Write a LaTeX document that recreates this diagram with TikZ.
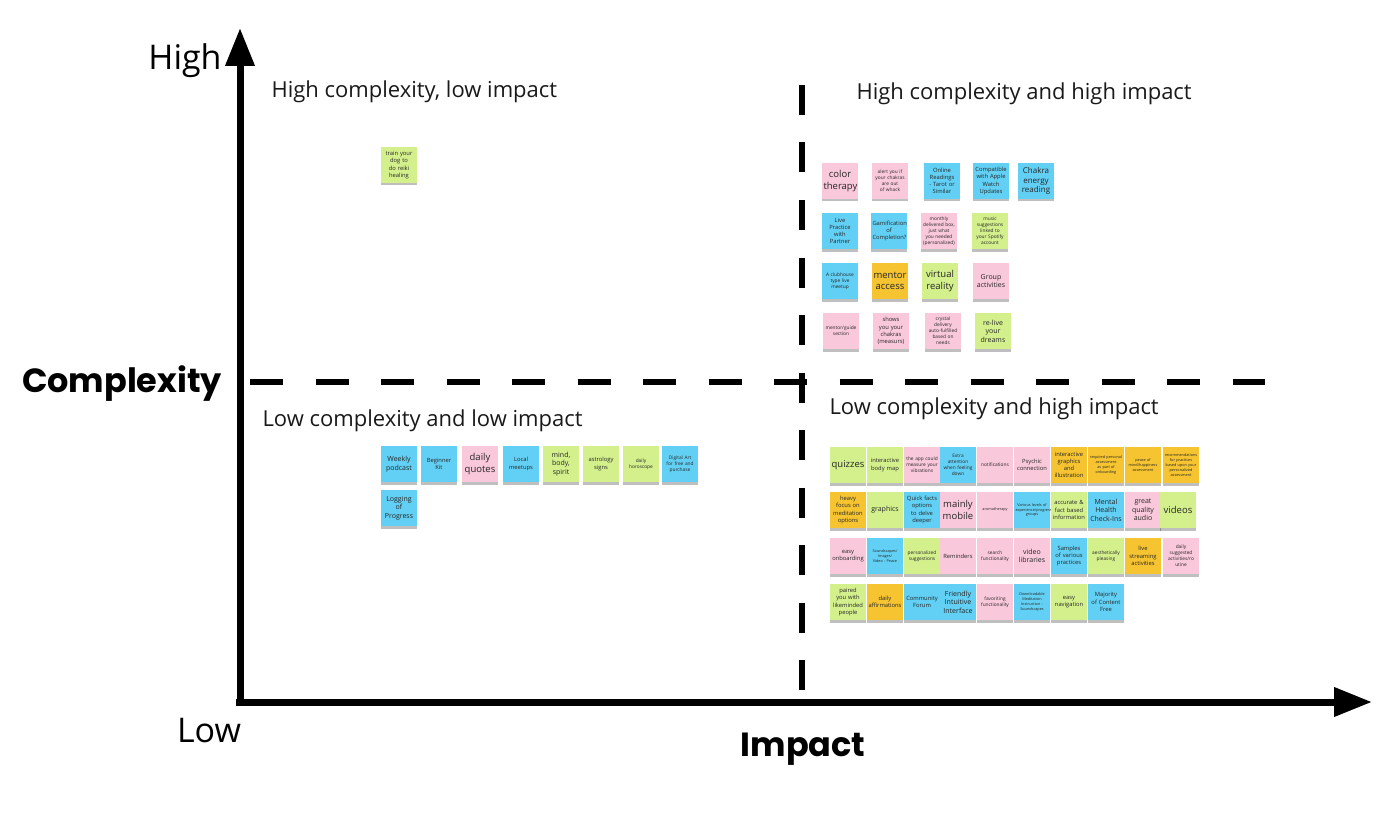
\documentclass[tikz,border=0pt]{standalone}
\usepackage{fontspec}
\setmainfont{Open Sans}
\newfontfamily\axisfont{Poppins}
\usetikzlibrary{arrows.meta,shadows}
\definecolor{npink}{HTML}{F9C8DA}
\definecolor{nblue}{HTML}{62D0F4}
\definecolor{ngreen}{HTML}{D3F08C}
\definecolor{nyellow}{HTML}{F6C430}
\newcommand\nohy{\hyphenpenalty=10000\exhyphenpenalty=10000\relax}
\tikzset{
  note/.style={rectangle, minimum width=36pt, minimum height=36pt, inner sep=0pt,
    text width=33pt, align=center, text=black!85,
    drop shadow={shadow xshift=0pt,shadow yshift=-2.5pt,opacity=0.25,fill=black}},
  fa/.style={font=\fontsize{9.5}{11.5}\selectfont\nohy},
  fb/.style={font=\fontsize{7}{8.6}\selectfont\nohy},
  fc/.style={font=\fontsize{5.8}{7.2}\selectfont\nohy},
  fd/.style={font=\fontsize{4.8}{6}\selectfont\nohy},
  fe/.style={font=\fontsize{3.8}{4.9}\selectfont\nohy},
  axisline/.style={line width=7pt, -{Triangle[length=38pt,width=28pt]}},
  quadline/.style={line width=5.5pt},
  qtitle/.style={anchor=west, font=\fontsize{22}{26}\selectfont, text=black!90},
  hilo/.style={font=\fontsize{34}{40}\selectfont},
  axtitle/.style={font=\axisfont\bfseries\fontsize{33.5}{40}\selectfont}
}
\newcommand\stick[5]{\node[note,fill=#1,#2] (#3) at (#4) {#5};}
\begin{document}
\begin{tikzpicture}[x=1pt,y=-1pt]
\useasboundingbox (0,0) rectangle (1400,829);
% axes
\coordinate (origV) at (240,706);
\coordinate (topV) at (240,28);
\coordinate (origH) at (236,702);
\coordinate (endH) at (1372,702);
\draw[axisline] (origV) -- (topV);
\draw[axisline] (origH) -- (endH);
% quadrant lines
\coordinate (vdTop) at (802,85);
\coordinate (vdBot) at (802,697);
\coordinate (hdL) at (250,382);
\coordinate (hdR) at (1265,382);
\draw[quadline, dash pattern=on 30pt off 27.5pt] (vdTop) -- (vdBot);
\draw[quadline, dash pattern=on 33pt off 32.5pt] (hdL) -- (hdR);
% axis labels
\node[hilo] (high) at (185,61) {High};
\node[hilo] (low) at (209,731) {Low};
\node[axtitle] (cx) at (122,384) {Complexity};
\node[axtitle] (im) at (803,749) {Impact};
% quadrant titles
\node[qtitle] (q1) at (268,92) {High complexity, low impact};
\node[qtitle] (q2) at (853,94) {High complexity and high impact};
\node[qtitle] (q3) at (259,421) {Low complexity and low impact};
\node[qtitle] (q4) at (826,409) {Low complexity and high impact};
% top-left
\stick{ngreen}{fc}{tl1}{399,165}{train your dog to do reiki healing}
% top-right
\stick{npink}{fa}{tr1}{840,181}{color therapy}
\stick{npink}{fd}{tr2}{890,181}{alert you if your chakras are out of whack}
\stick{nblue}{fc}{tr3}{942,181}{Online Readings - Tarot or Similar}
\stick{nblue}{fc}{tr4}{991,181}{Compatible with Apple Watch Updates}
\stick{nblue}{font=\fontsize{8}{9.6}\selectfont\nohy}{tr5}{1036,181}{Chakra energy reading}
\stick{nblue}{fc}{tr6}{840,231}{Live Practice with Partner}
\stick{nblue}{fc}{tr7}{889,231}{Gamification of Completion?}
\stick{npink}{fd}{tr8}{939,231}{monthly delivered box, just what you needed (personalized)}
\stick{ngreen}{fd}{tr9}{990,231}{music suggestions linked to your Spotify account}
\stick{nblue}{fd}{tr10}{840,281}{A clubhouse type live meetup}
\stick{nyellow}{fa}{tr11}{890,281}{mentor access}
\stick{ngreen}{fa}{tr12}{940,281}{virtual reality}
\stick{npink}{fb}{tr13}{991,281}{Group activities}
\stick{npink}{fd}{tr14}{841,331}{mentor/guide section}
\stick{npink}{fc}{tr15}{891,331}{shows you your chakras (measurs)}
\stick{npink}{fd}{tr16}{943,331}{crystal delivery auto-fulfilled based on needs}
\stick{ngreen}{fb}{tr17}{993,331}{re-live your dreams}
% bottom-left
\stick{nblue}{fb}{bl1}{399,464}{Weekly podcast}
\stick{nblue}{fc}{bl2}{439,464}{Beginner Kit}
\stick{npink}{fa}{bl3}{480,464}{daily quotes}
\stick{nblue}{fc}{bl4}{521,464}{Local meetups}
\stick{ngreen}{fb}{bl5}{561,464}{mind, body, spirit}
\stick{ngreen}{fc}{bl6}{601,464}{astrology signs}
\stick{ngreen}{fd}{bl7}{641,464}{daily horoscope}
\stick{nblue}{fd}{bl8}{680,464}{Digital Art for free and purchase}
\stick{nblue}{fb}{bl9}{399,508}{Logging of Progress}
% bottom-right row 1
\stick{ngreen}{fa}{br1}{848,465}{quizzes}
\stick{ngreen}{fc}{br2}{885,465}{interactive body map}
\stick{npink}{fd}{br3}{922,465}{the app could measure your vibrations}
\stick{nblue}{fd}{br4}{958,465}{Extra attention when feeling down}
\stick{npink}{fd}{br5}{995,465}{notifications}
\stick{npink}{fc}{br6}{1032,465}{Psychic connection}
\stick{nyellow}{fc}{br7}{1069,465}{interactive graphics and illustration}
\stick{nyellow}{fe}{br8}{1106,465}{required personal assessment as part of onboarding}
\stick{nyellow}{fe}{br9}{1143,465}{peace of mind/happiness assessment}
\stick{nyellow}{fe}{br10}{1181,465}{recommendations for practices based upon your personalized assessment}
% row 2
\stick{nyellow}{fc}{br11}{848,510}{heavy focus on meditation options}
\stick{ngreen}{fb}{br12}{885,510}{graphics}
\stick{nblue}{fc}{br13}{922,510}{Quick facts options to delve deeper}
\stick{npink}{fa}{br14}{958,510}{mainly mobile}
\stick{npink}{fe}{br15}{995,510}{aromatherapy}
\stick{nblue}{fe}{br16}{1032,510}{Various levels of experience/progress groups}
\stick{ngreen}{fc}{br17}{1069,510}{accurate \& fact based information}
\stick{nblue}{fb}{br18}{1106,510}{Mental Health Check-Ins}
\stick{npink}{fb}{br19}{1143,510}{great quality audio}
\stick{ngreen}{fa}{br20}{1178,510}{videos}
% row 3
\stick{npink}{fc}{br21}{848,556}{easy onboarding}
\stick{nblue}{fe}{br22}{885,556}{Soundscapes/ Images/ Video - Peace}
\stick{ngreen}{fd}{br23}{922,556}{personalized suggestions}
\stick{npink}{fc}{br24}{958,556}{Reminders}
\stick{npink}{fd}{br25}{995,556}{search functionality}
\stick{npink}{fb}{br26}{1032,556}{video libraries}
\stick{nblue}{fc}{br27}{1069,556}{Samples of various practices}
\stick{ngreen}{fd}{br28}{1106,556}{aesthetically pleasing}
\stick{nyellow}{fc}{br29}{1143,556}{live streaming activities}
\stick{npink}{fd}{br30}{1181,556}{daily\\suggested\\activities/ro\\utine}
% row 4
\stick{ngreen}{fc}{br31}{848,602}{paired you with likeminded people}
\stick{nyellow}{fc}{br32}{885,602}{daily affirmations}
\stick{nblue}{fc}{br33}{922,602}{Community Forum}
\stick{nblue}{fb}{br34}{958,602}{Friendly Intuitive Interface}
\stick{npink}{fd}{br35}{995,602}{favoriting functionality}
\stick{nblue}{fe}{br36}{1032,602}{Downloadable Meditation Instruction - Soundscapes}
\stick{ngreen}{fc}{br37}{1069,602}{easy navigation}
\stick{nblue}{fc}{br38}{1106,602}{Majority of Content Free}
\end{tikzpicture}
\end{document}
